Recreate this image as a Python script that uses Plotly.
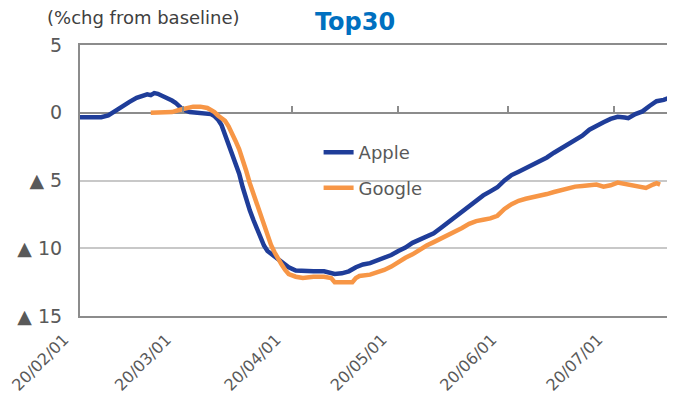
import pandas as pd
import plotly.graph_objects as go

# days counted from 2020-02-01, values = %chg from baseline
apple_days = [0, 2, 4, 6, 8, 10, 12, 14, 16, 18, 19, 20, 21, 22, 24, 26, 27, 28, 29, 31, 33, 35, 37,
              38, 39, 40, 41, 42, 43, 44, 45, 46, 47, 48, 49, 50, 51, 52, 53, 54, 56, 57, 59, 61, 63,
              66, 69, 71, 72, 74, 76, 78, 80, 82, 84, 86, 88, 90, 92, 94, 96, 98, 100, 102, 104, 106,
              108, 110, 112, 114, 116, 118, 120, 122, 124, 126, 128, 130, 132, 134, 136, 138, 140,
              142, 144, 146, 148, 150, 152, 154, 155, 157, 159, 161, 163, 165, 167]
apple_vals = [-0.33, -0.33, -0.33, -0.33, -0.2, 0.15, 0.5, 0.8, 1.1, 1.3, 1.36, 1.3, 1.45, 1.4, 1.18,
              0.9, 0.74, 0.45, 0.25, 0.05, 0.0, -0.05, -0.1,
              -0.25, -0.5, -0.9, -1.6, -2.2, -2.9, -3.8, -4.5, -5.5, -6.5, -7.2, -7.9, -8.6, -9.3,
              -9.8, -10.2, -10.4, -10.8, -11.1, -11.4, -11.65, -11.7,
              -11.7, -11.7, -11.8, -11.9, -11.85, -11.7, -11.4, -11.2, -11.1, -10.9, -10.7, -10.5,
              -10.2, -9.95, -9.6, -9.35, -9.1, -8.9, -8.5, -8.1, -7.7,
              -7.2, -6.8, -6.4, -6.1, -5.8, -5.5, -5.0, -4.6, -4.35, -4.1, -3.85, -3.6, -3.3, -2.95,
              -2.65, -2.35, -2.05,
              -1.7, -1.25, -0.95, -0.7, -0.45, -0.3, -0.35, -0.4, -0.1, 0.1, 0.5, 0.85, 0.95, 1.15]

google_days = [20, 22, 24, 26, 28, 30, 32, 34, 36, 37, 38, 39, 40, 41, 42, 43, 44, 45, 46, 47, 48,
               49, 50, 51, 52, 53, 54, 55, 56, 57, 58, 59, 61, 63, 66, 69, 71, 72, 74, 77, 78, 79,
               82, 84, 86, 88, 90, 92, 94, 96, 98, 100, 102, 104, 106, 108, 110, 112, 114, 116, 118,
               120, 122, 124, 126, 128, 130, 132, 134, 136, 138, 140, 142, 144, 146, 148, 150, 152,
               154, 156, 158, 160, 162, 163, 164]
google_vals = [0.0, 0.0, 0.0, 0.05, 0.2, 0.35, 0.45, 0.45, 0.35, 0.2, 0.05, -0.2, -0.4, -0.6, -1.0,
               -1.5, -2.1, -2.7, -3.4, -4.3, -5.2,
               -6.0, -6.8, -7.6, -8.4, -9.1, -9.75, -10.3, -10.8, -11.2, -11.6, -11.9, -12.1, -12.2,
               -12.1, -12.1, -12.2, -12.5, -12.5, -12.5, -12.2, -12.05,
               -11.95, -11.8, -11.6, -11.35, -11.0, -10.7, -10.45, -10.1, -9.8, -9.55, -9.3, -9.05,
               -8.8, -8.5, -8.2, -8.0, -7.9, -7.8, -7.6,
               -7.1, -6.75, -6.5, -6.35, -6.25, -6.15, -6.0, -5.85, -5.7, -5.55, -5.45, -5.4, -5.35,
               -5.3, -5.45, -5.35, -5.15,
               -5.25, -5.35, -5.45, -5.55, -5.3, -5.2, -5.3]

month_ticks = ["2020-02-01", "2020-03-01", "2020-04-01", "2020-05-01", "2020-06-01", "2020-07-01"]
month_text = ["20/02/01", "20/03/01", "20/04/01", "20/05/01", "20/06/01", "20/07/01"]
y_ticks = [5, 0, -5, -10, -15]
y_text = ["5", "0", "▲ 5", "▲ 10", "▲ 15"]

start = pd.Timestamp("2020-02-01")
apple_dates = start + pd.to_timedelta(apple_days, unit="D")
google_dates = start + pd.to_timedelta(google_days, unit="D")

FONT = "Verdana, DejaVu Sans, sans-serif"
GREY = "#8C8C8C"
x_range = ["2020-02-01", "2020-07-18 05:00"]

# the page body has an 8px margin, so the figure is sized to fill the rest of the window
W, H = 667, 393

fig = go.Figure()
fig.add_trace(go.Scatter(x=apple_dates, y=apple_vals, name="Apple", mode="lines",
                         legendgroup="a", line=dict(color="#1F3D99", width=4.5)))
# google drawn on the overlay axis (same range) which also carries the ticks on the zero line
fig.add_trace(go.Scatter(x=google_dates, y=google_vals, name="Google", mode="lines",
                         legendgroup="g", xaxis="x2", line=dict(color="#F79646", width=4.5)))

fig.update_layout(
    width=W, height=H,
    margin=dict(l=72, r=0, t=37, b=85),
    plot_bgcolor="white", paper_bgcolor="white",
    font=dict(family=FONT, color="#595959"),
    title=dict(text="<b>Top30</b>", x=(355 - 8) / W, xref="container", xanchor="center",
               y=1 - (22 - 8) / H, yref="container", yanchor="middle",
               font=dict(family=FONT, size=24, color="#0070C0")),
    xaxis=dict(type="date", range=x_range, tickmode="array", tickvals=month_ticks,
               ticktext=month_text, tickangle=-45, tickfont=dict(size=16, color="#595959"),
               showgrid=False, showline=True, mirror=True, linecolor=GREY, linewidth=2,
               ticks="", zeroline=False, automargin=False,
               ticklabelstandoff=6, ticklabelshift=-16),
    xaxis2=dict(type="date", range=x_range, overlaying="x", anchor="free", position=0.75,
                side="bottom", tickmode="array", tickvals=month_ticks, ticks="inside",
                ticklen=7, tickwidth=2, tickcolor=GREY, showticklabels=False,
                showgrid=False, showline=False, zeroline=False, automargin=False),
    yaxis=dict(range=[-15, 5], tickmode="array", tickvals=y_ticks, ticktext=y_text,
               tickfont=dict(size=19, color="#595959"), showgrid=True, gridcolor="#C8C8C8",
               gridwidth=2, zeroline=True, zerolinecolor=GREY, zerolinewidth=2,
               showline=True, linecolor=GREY, linewidth=2, ticks="", ticklabelstandoff=12,
               automargin=False),
    legend=dict(x=0.401, y=0.671, xanchor="left", yanchor="top", bgcolor="rgba(0,0,0,0)",
                font=dict(size=18, color="#595959"), tracegroupgap=9, traceorder="grouped"),
    annotations=[dict(text="(%chg from baseline)", xref="paper", yref="paper",
                      x=-0.059, y=1.10, xanchor="left", yanchor="middle", showarrow=False,
                      font=dict(size=18, color="#404040"))],
)

fig.write_html("out.html")
